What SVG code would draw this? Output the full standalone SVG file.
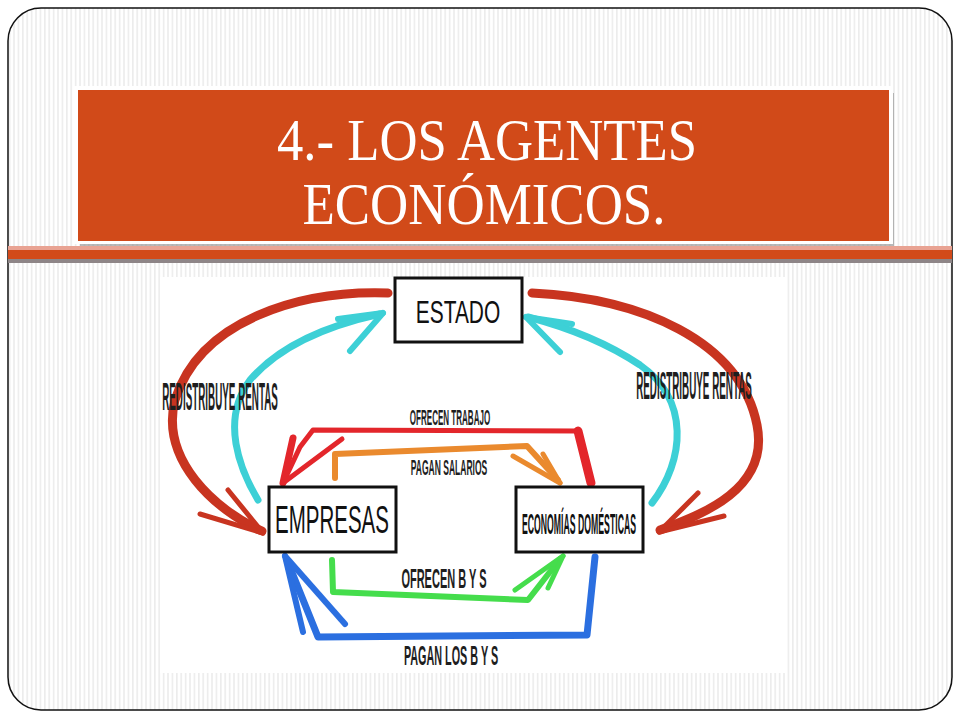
<svg xmlns="http://www.w3.org/2000/svg" width="960" height="720" viewBox="0 0 960 720">
<defs>
<pattern id="stripes" width="4.4" height="10" patternUnits="userSpaceOnUse">
<rect width="4.4" height="10" fill="#ffffff"/>
<rect width="1.6" height="10" fill="#ececec"/>
</pattern>
<style>
.box{fill:#ffffff;stroke:#111;stroke-width:3}
.lbl{font-family:"Liberation Sans","DejaVu Sans",sans-serif;fill:#1e1e1e;text-anchor:middle;font-weight:bold}
.nd{font-family:"Liberation Sans","DejaVu Sans",sans-serif;fill:#111;text-anchor:middle}
.ttl{font-family:"Liberation Serif","DejaVu Serif",serif;fill:#ffffff;text-anchor:middle;font-size:60px}
.ln{fill:none;stroke-linecap:round;stroke-linejoin:round}
.barb{stroke-linecap:round;fill:none}
</style>
</defs>
<rect width="960" height="720" fill="#ffffff"/>
<rect x="8" y="8" width="944" height="702" rx="33" ry="33" fill="url(#stripes)" stroke="#111" stroke-width="1.5"/>
<g id="title">
<rect x="80" y="93" width="814" height="153" fill="#8a8a8a" opacity="0.6"/>
<rect x="74" y="86" width="819" height="158" fill="#ffffff"/>
<rect x="78" y="90" width="811" height="151" fill="#D14A19"/>
<text class="ttl" x="487" y="160" textLength="420" lengthAdjust="spacingAndGlyphs">4.- LOS AGENTES</text>
<text class="ttl" x="484" y="224" textLength="363" lengthAdjust="spacingAndGlyphs">ECONÓMICOS.</text>
</g>
<g id="bands">
<rect x="8" y="246" width="944" height="4" fill="#E9A393"/>
<rect x="8" y="250" width="944" height="9" fill="#D24A1A"/>
<rect x="8" y="259" width="944" height="4" fill="#8E8587"/>
</g>
<rect x="160" y="277" width="625" height="396" fill="#ffffff"/>
<g id="connectors">
<path class="ln" d="M 388 293 C 300 290, 200 320, 175 400 C 160 460, 215 510, 262 531" stroke="#C83420" stroke-width="9"/>
<line class="barb" x1="263" y1="533" x2="200" y2="514" stroke="#C83420" stroke-width="5"/>
<line class="barb" x1="263" y1="533" x2="228" y2="490" stroke="#C83420" stroke-width="5"/>
<path class="ln" d="M 532 293 C 640 298, 740 340, 757 425 C 770 490, 700 515, 660 530" stroke="#C83420" stroke-width="9"/>
<line class="barb" x1="659" y1="532" x2="698" y2="493" stroke="#C83420" stroke-width="5"/>
<line class="barb" x1="659" y1="532" x2="724" y2="516" stroke="#C83420" stroke-width="5"/>
<path class="ln" d="M 258 500 C 240 470, 220 420, 250 380 C 280 345, 330 325, 380 314" stroke="#3DD0D6" stroke-width="7"/>
<line class="barb" x1="383" y1="313" x2="338" y2="319" stroke="#3DD0D6" stroke-width="6"/>
<line class="barb" x1="383" y1="313" x2="350" y2="351" stroke="#3DD0D6" stroke-width="6"/>
<path class="ln" d="M 652 503 C 685 460, 690 400, 640 365 C 610 345, 570 328, 528 317" stroke="#3DD0D6" stroke-width="7"/>
<line class="barb" x1="526" y1="317" x2="572" y2="324" stroke="#3DD0D6" stroke-width="6"/>
<line class="barb" x1="526" y1="317" x2="560" y2="352" stroke="#3DD0D6" stroke-width="6"/>
<path class="ln" d="M 591 483 L 578 431" stroke="#E3262B" stroke-width="9"/>
<path class="ln" d="M 578 431 L 313 430 L 300 447 L 284 481" stroke="#E3262B" stroke-width="5"/>
<line class="barb" x1="283" y1="483" x2="293" y2="438" stroke="#E3262B" stroke-width="7"/>
<line class="barb" x1="283" y1="483" x2="342" y2="439" stroke="#E3262B" stroke-width="5"/>
<path class="ln" d="M 335 478 L 335 454 L 527 446 L 558 480" stroke="#EA8A2E" stroke-width="6"/>
<line class="barb" x1="560" y1="483" x2="513" y2="456" stroke="#EA8A2E" stroke-width="5"/>
<line class="barb" x1="560" y1="483" x2="543" y2="454" stroke="#EA8A2E" stroke-width="5"/>
<path class="ln" d="M 332 560 L 333 592 L 528 600 L 560 559" stroke="#45DD4C" stroke-width="6"/>
<line class="barb" x1="563" y1="556" x2="515" y2="590" stroke="#45DD4C" stroke-width="5"/>
<line class="barb" x1="563" y1="556" x2="548" y2="588" stroke="#45DD4C" stroke-width="5"/>
<path class="ln" d="M 595 557 L 587 635 L 318 637 L 287 560" stroke="#2B6FE0" stroke-width="7"/>
<line class="barb" x1="285" y1="556" x2="303" y2="632" stroke="#2B6FE0" stroke-width="6"/>
<line class="barb" x1="285" y1="556" x2="345" y2="624" stroke="#2B6FE0" stroke-width="6"/>
</g>
<g id="labels">
<text class="lbl" font-size="38" transform="translate(220,410) scale(0.259,1)">REDISTRIBUYE RENTAS</text>
<text class="lbl" font-size="38" transform="translate(694,399) scale(0.259,1)">REDISTRIBUYE RENTAS</text>
<text class="lbl" font-size="22" transform="translate(450,425) scale(0.366,1)">OFRECEN TRABAJO</text>
<text class="lbl" font-size="22" transform="translate(449,475) scale(0.387,1)">PAGAN SALARIOS</text>
<text class="lbl" font-size="27" transform="translate(444,588) scale(0.408,1)">OFRECEN B Y S</text>
<text class="lbl" font-size="27" transform="translate(451,665) scale(0.4,1)">PAGAN LOS B Y S</text>
</g>
<g id="estado">
<rect class="box" x="395" y="278" width="127" height="64"/>
<text class="nd" font-size="31" transform="translate(458,323) scale(0.675,1)">ESTADO</text>
</g>
<g id="empresas">
<rect class="box" x="269" y="487" width="127" height="65"/>
<text class="nd" font-size="38" transform="translate(332,533) scale(0.54,1)">EMPRESAS</text>
</g>
<g id="economias">
<rect class="box" x="516" y="487" width="127" height="65"/>
<text class="nd" font-size="30" font-weight="bold" transform="translate(579,534) scale(0.29,1)">ECONOMÍAS DOMÉSTICAS</text>
</g>
</svg>
